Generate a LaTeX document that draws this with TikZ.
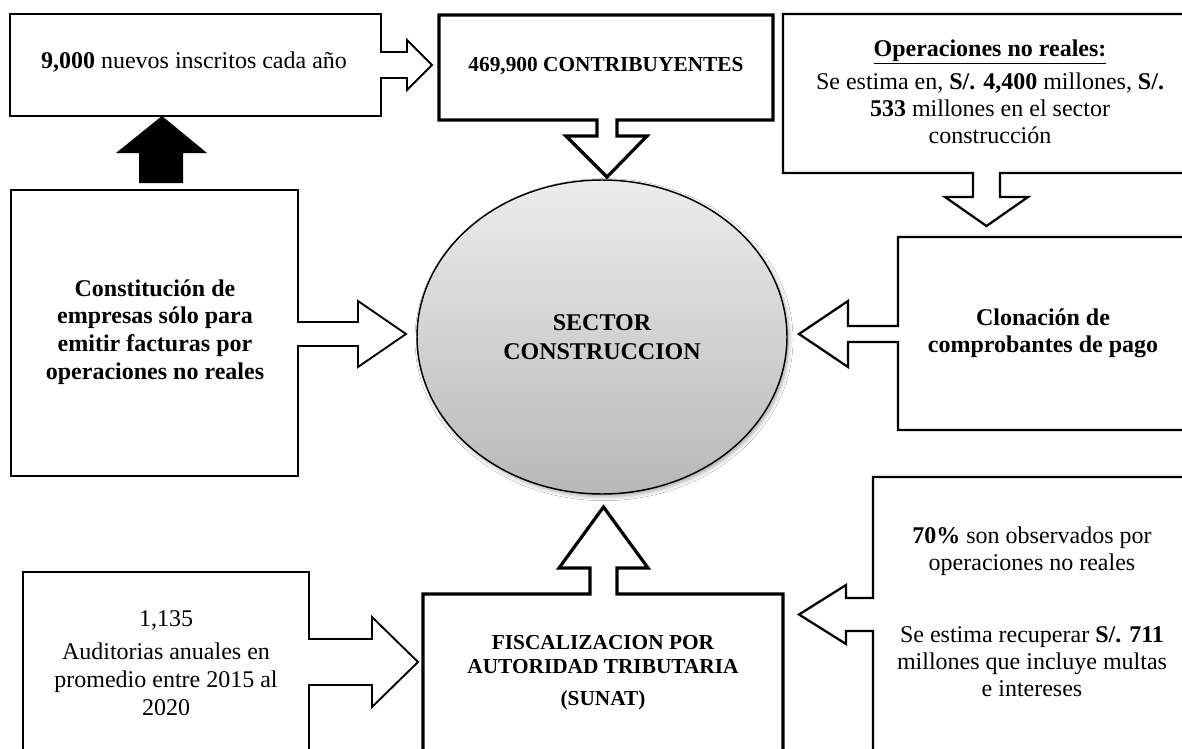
\documentclass[tikz,border=0pt]{standalone}
\usepackage{fontspec}
\setmainfont{Liberation Serif}
\usetikzlibrary{shapes.geometric,shadows.blur}
\begin{document}
\begin{tikzpicture}[x=0.75pt,y=-0.75pt,
  thinline/.style={draw=black,line width=1.4pt,line join=miter,fill=white},
  midline/.style={draw=black,line width=1.7pt,line join=miter,fill=white},
  thickline/.style={draw=black,line width=2.4pt,line join=miter,fill=white},
  txt/.style={align=center,inner sep=0pt,font=\fontsize{18}{20.5}\selectfont},
  captxt/.style={align=center,inner sep=0pt,font=\fontsize{16}{18}\selectfont\bfseries}]
\useasboundingbox (0,0) rectangle (1182,749);
\clip (0,0) rectangle (1182,749);
\fill[white] (0,0) rectangle (1182,749);

% box: nuevos inscritos, with arrow to the right
\draw[thinline] (10,14) -- (381,14) -- (381,52) -- (407,52) -- (407,40) -- (432,65) -- (407,90) -- (407,78) -- (381,78) -- (381,116) -- (10,116) -- cycle;
% black arrow up
\fill[black] (139,183) -- (139,153) -- (116,153) -- (162,116) -- (207,153) -- (183,153) -- (183,183) -- cycle;
% box: constitucion, arrow right
\draw[thinline] (11,190) -- (298,190) -- (298,322) -- (358,322) -- (358,301) -- (406,334) -- (358,367) -- (358,346) -- (298,346) -- (298,476) -- (11,476) -- cycle;
% box: contribuyentes, arrow down
\draw[thickline] (439,15) -- (773,15) -- (773,120) -- (617,120) -- (617,136) -- (647,136) -- (607,177) -- (566,136) -- (597,136) -- (597,120) -- (439,120) -- cycle;
% box: operaciones no reales, arrow down
\draw[midline] (783,14) -- (1195,14) -- (1195,173) -- (1000,173) -- (1000,197) -- (1028,197) -- (986.5,226) -- (945,197) -- (973,197) -- (973,173) -- (783,173) -- cycle;
% box: clonacion, arrow left
\draw[midline] (898,237) -- (1195,237) -- (1195,430) -- (898,430) -- (898,342) -- (848,342) -- (848,367) -- (799,334) -- (848,301) -- (848,326) -- (898,326) -- cycle;
% box: auditorias, arrow right
\draw[thinline] (23,760) -- (23,572) -- (309,572) -- (309,639) -- (372,639) -- (372,617) -- (418,662) -- (372,707) -- (372,685) -- (309,685) -- (309,760) -- cycle;
% box: fiscalizacion, arrow up
\draw[thickline] (423,760) -- (423,594) -- (590,594) -- (590,568) -- (559,568) -- (603.5,507) -- (648,568) -- (617,568) -- (617,594) -- (783,594) -- (783,760) -- cycle;
% box: 70%, arrow left
\draw[midline] (1195,477) -- (873,477) -- (873,598) -- (846,598) -- (846,585) -- (799,614.5) -- (846,644) -- (846,631) -- (873,631) -- (873,760) -- (1195,760) -- cycle;

% central ellipse
\node (sector) [ellipse, draw=black, line width=1.1pt, minimum width=277.5pt, minimum height=235.5pt, inner sep=0pt,
  top color={rgb,255:red,236;green,236;blue,236}, bottom color={rgb,255:red,184;green,184;blue,184},
  blur shadow={shadow xshift=1.5pt,shadow yshift=-2pt,shadow blur radius=3pt,shadow opacity=35},
  align=center, font=\fontsize{18}{21.75}\selectfont\bfseries] at (602,337) {SECTOR\\CONSTRUCCION};

% texts
\node (nuevos) [txt, anchor=base] at (194,69) {\textbf{9,000} nuevos inscritos cada año};
\node (contrib) [captxt, anchor=base] at (606,72) {469,900 CONTRIBUYENTES};
\node (constit) [txt, font=\fontsize{18}{20.7}\selectfont\bfseries] at (155,332) {Constitución de\\empresas sólo para\\emitir facturas por\\operaciones no reales};
\node (oper) [txt, font=\fontsize{18}{20.5}\selectfont] at (990,92) {\textbf{\underline{Operaciones no reales:}}\\[4pt]Se estima en, \textbf{S/. 4,400} millones, \textbf{S/.}\\\textbf{533} millones en el sector\\construcción};
\node (clon) [txt, font=\fontsize{18}{20.25}\selectfont\bfseries] at (1043,333.5) {Clonación de\\comprobantes de pago};
\node (audit) [txt, font=\fontsize{18}{21}\selectfont] at (166,663) {1,135\\[4pt]Auditorias anuales en\\promedio entre 2015 al\\2020};
\node (fisc) [captxt] at (603,673) {FISCALIZACION POR\\AUTORIDAD TRIBUTARIA\\[6pt](SUNAT)};
\node (obs) [txt, font=\fontsize{18}{20.5}\selectfont] at (1032,612) {\textbf{70\%} son observados por\\operaciones no reales\\[33pt]Se estima recuperar \textbf{S/. 711}\\millones que incluye multas\\e intereses};
\end{tikzpicture}
\end{document}
